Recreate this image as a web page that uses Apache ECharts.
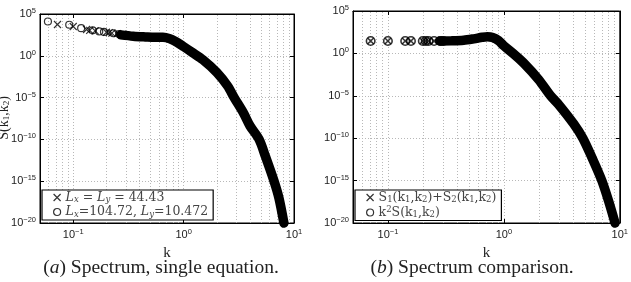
<!DOCTYPE html>
<html><head><meta charset="utf-8">
<script src="https://cdn.jsdelivr.net/npm/echarts@6/dist/echarts.min.js"></script>
<style>html,body{margin:0;padding:0;background:#fff;}#c{width:631px;height:282px;}</style>
</head><body><div id="c"></div>
<script>
// ---------- data ----------
// (a) single equation
const crossK_a = [0.072, 0.1, 0.132, 0.141, 0.158, 0.2, 0.212, 0.224, 0.25, 0.28];
const crossS_a = [5.6e3, 3.2e3, 1.4e3, 1.1e3, 9.5e2, 6.6e2, 6.0e2, 5.2e2, 4.5e2, 3.8e2];
const circK_a  = [0.059, 0.092, 0.118, 0.15, 0.172, 0.19, 0.231, 0.26];
const circS_a  = [1.26e4, 5.2e3, 2.0e3, 1.1e3, 8.3e2, 7.1e2, 5.0e2, 4.0e2];
const bandK_a  = [0.27, 0.35, 0.45, 0.55, 0.65, 0.75, 0.85, 1.0, 1.2, 1.5, 2.0, 2.5, 2.87, 3.5, 4.0, 4.83, 5.5, 6.6, 7.3, 8.1];
const bandS_a  = [3.2e2, 2.2e2, 1.8e2, 1.6e2, 1.6e2, 1.1e2, 50, 12.6, 2.5, 0.32, 1e-2, 2.5e-4, 1e-5, 1.3e-7, 4e-9, 1e-10, 1e-12, 1e-15, 1e-17, 1e-20];
// (b) comparison
const markK_b  = [0.071, 0.1, 0.141, 0.158, 0.2, 0.212, 0.224, 0.25, 0.283, 0.3];
const sumV_b   = [29, 29, 29, 29, 29, 29, 29, 29, 29, 29];
const k2sV_b   = [29, 29, 29, 29, 29, 29, 29, 29, 29, 29];
const bandK_b  = [0.28, 0.35, 0.45, 0.55, 0.65, 0.72, 0.8, 0.9, 1.0, 1.2, 1.5, 2.0, 2.53, 3.0, 4.0, 4.8, 5.8, 7.0, 8.0, 9.1];
const bandV_b  = [29, 30, 35, 52, 79, 93, 76, 32, 7.9, 1.0, 6.3e-2, 7.9e-4, 1e-5, 7.9e-7, 5e-9, 1e-10, 4e-13, 1e-15, 4e-18, 1e-20];

const xMin = 0.05, xMax = 10, yMin = 1e-20, yMax = 1e5;
const names = {
  a1: 'Lx = Ly = 44.43', a2: 'Lx=104.72, Ly=10.472',
  b1: 'S1(k1,k2)+S2(k1,k2)', b2: 'k2S(k1,k2)'
};
const legendText = {};
legendText[names.a1] = '{i|L}{si|x}{r| = }{i|L}{si|y}{r| = 44.43}';
legendText[names.a2] = '{i|L}{si|x}{r|=104.72, }{i|L}{si|y}{r|=10.472}';
legendText[names.b1] = '{r|S}{sr|1}{r|(k}{sr|1}{r|,k}{sr|2}{r|)+S}{sr|2}{r|(k}{sr|1}{r|,k}{sr|2}{r|)}';
legendText[names.b2] = '{r|k}{sp|2}{r|S(k}{sr|1}{r|,k}{sr|2}{r|)}';

const zip = (a, b) => a.map((v, i) => [v, b[i]]);
const SANS = 'Liberation Sans', SERIF = 'Liberation Serif', LSERIF = 'DejaVu Serif';
const TXT = '#222', LTXT = '#444';

const tickRich = {
  b: {fontFamily: SANS, fontSize: 11, lineHeight: 14, color: TXT},
  s: {fontFamily: SANS, fontSize: 7.5, lineHeight: 8, verticalAlign: 'top', color: TXT}
};
function powLabel(v) {
  const e = Math.round(Math.log10(v));
  return '{b|10}{s|' + (e < 0 ? '\u2212' + (-e) : e) + '}';
}
const legRich = {
  i:  {fontFamily: LSERIF, fontStyle: 'italic', fontSize: 12.5, lineHeight: 14, color: LTXT},
  r:  {fontFamily: LSERIF, fontSize: 12.5, lineHeight: 14, color: LTXT},
  si: {fontFamily: LSERIF, fontStyle: 'italic', fontSize: 8.5, lineHeight: 8, verticalAlign: 'bottom', color: LTXT},
  sr: {fontFamily: LSERIF, fontSize: 8.5, lineHeight: 8, verticalAlign: 'bottom', color: LTXT},
  sp: {fontFamily: LSERIF, fontSize: 8.5, lineHeight: 8, verticalAlign: 'top', color: LTXT}
};

// minor grid positions (2..9 x 10^d) derived from the axis range
const minorX = [];
for (let d = -2; d <= 0; d++) for (let m = 2; m <= 9; m++) {
  const v = m * Math.pow(10, d);
  if (v > xMin && v < xMax) minorX.push({xAxis: v});
}
const gridLine = {type: [1, 2], color: '#b8b8b8', width: 1};

function xAxis(gi, mirror) {
  const ax = {
    type: 'log', logBase: 10, gridIndex: gi, min: xMin, max: xMax,
    axisLine: {show: true, onZero: false, lineStyle: {color: '#000', width: 1}},
    axisTick: {show: true, inside: true, length: 4, lineStyle: {color: '#000'}}
  };
  if (mirror) {
    ax.position = 'top';
    ax.axisLabel = {show: false};
    ax.splitLine = {show: false};
  } else {
    ax.name = 'k'; ax.nameLocation = 'middle'; ax.nameGap = 16;
    ax.nameTextStyle = {fontFamily: SERIF, fontSize: 15, color: TXT};
    ax.axisLabel = {showMinLabel: false, formatter: powLabel, rich: tickRich, margin: 5};
    ax.splitLine = {show: true, lineStyle: gridLine};
  }
  return ax;
}
function yAxis(gi, mirror) {
  const ax = {
    type: 'log', logBase: 1e5, gridIndex: gi, min: yMin, max: yMax,
    axisLine: {show: true, onZero: false, lineStyle: {color: '#000', width: 1}},
    axisTick: {show: true, inside: true, length: 4, lineStyle: {color: '#000'}}
  };
  if (mirror) {
    ax.position = 'right';
    ax.axisLabel = {show: false};
    ax.splitLine = {show: false};
  } else {
    ax.axisLabel = {formatter: powLabel, rich: tickRich, margin: 4};
    ax.splitLine = {show: true, lineStyle: gridLine};
  }
  return ax;
}
const crossPath = 'path://M0,0L10,10M10,0L0,10';
const hollow = {color: 'rgba(0,0,0,0)', borderColor: '#000', borderWidth: 1.2};
const hollowB = {color: 'rgba(0,0,0,0)', borderColor: '#000', borderWidth: 1.6};

function gridHelper(gi) {
  return {type: 'line', xAxisIndex: gi, yAxisIndex: gi, data: [], silent: true, z: 1,
    markLine: {silent: true, z: 1, symbol: ['none', 'none'], label: {show: false},
      lineStyle: gridLine, data: minorX, animation: false}};
}
function band(gi, k, v) {
  return {type: 'line', xAxisIndex: gi, yAxisIndex: gi, data: zip(k, v), showSymbol: false,
    smooth: 0.3, clip: false, z: 3, silent: true,
    lineStyle: {color: '#000', width: 9.5, cap: 'round', join: 'round'}};
}
function marks(gi, name, sym, k, v, st, size) {
  return {type: 'scatter', name: name, xAxisIndex: gi, yAxisIndex: gi, data: zip(k, v),
    symbol: sym, symbolSize: size, itemStyle: st, z: 4, clip: false};
}
function legend(left, top, list) {
  return {left: left, top: top, orient: 'vertical', data: list.map(n => ({name: n, itemStyle: hollow})),
    backgroundColor: '#fff', borderColor: '#000', borderWidth: 1.2, borderRadius: 0,
    padding: [1, 5, 1, 11], itemGap: 1, itemWidth: 7, itemHeight: 7, selectedMode: false, z: 6,
    formatter: n => legendText[n], textStyle: {rich: legRich, fontFamily: LSERIF, fontSize: 12.5, color: LTXT}};
}

const chart = echarts.init(document.getElementById('c'));
chart.setOption({
  animation: false,
  backgroundColor: '#fff',
  grid: [
    {left: 40, top: 14, width: 254, height: 209, show: true, borderColor: '#000', borderWidth: 1, backgroundColor: 'transparent'},
    {left: 353, top: 11, width: 269, height: 212, show: true, borderColor: '#000', borderWidth: 1, backgroundColor: 'transparent'}
  ],
  xAxis: [xAxis(0, false), xAxis(1, false), xAxis(0, true), xAxis(1, true)],
  yAxis: [yAxis(0, false), yAxis(1, false), yAxis(0, true), yAxis(1, true)],
  legend: [legend(42, 190, [names.a1, names.a2]), legend(355, 190, [names.b1, names.b2])],
  series: [
    gridHelper(0), gridHelper(1),
    band(0, bandK_a, bandS_a),
    marks(0, names.a1, crossPath, crossK_a, crossS_a, hollow, 7),
    marks(0, names.a2, 'circle', circK_a, circS_a, hollow, 7),
    band(1, bandK_b, bandV_b),
    marks(1, names.b1, crossPath, markK_b, sumV_b, hollowB, 6),
    marks(1, names.b2, 'circle', markK_b, k2sV_b, hollowB, 8.5)
  ],
  graphic: [
    {type: 'text', x: 4, y: 118, rotation: Math.PI / 2, style: {text: 'S(k{s|1},k{s|2})', align: 'center', verticalAlign: 'middle',
      fontFamily: SERIF, fontSize: 14, fill: TXT,
      rich: {s: {fontFamily: SERIF, fontSize: 9, lineHeight: 9, verticalAlign: 'bottom', fill: TXT}}}},
    {type: 'text', x: 161, y: 268, style: {text: '({i|a}) Spectrum, single equation.', align: 'center', verticalAlign: 'middle',
      fontFamily: SERIF, fontSize: 19.5, fill: '#222',
      rich: {i: {fontFamily: SERIF, fontStyle: 'italic', fontSize: 19.5, fill: '#222'}}}},
    {type: 'text', x: 472, y: 268, style: {text: '({i|b}) Spectrum comparison.', align: 'center', verticalAlign: 'middle',
      fontFamily: SERIF, fontSize: 19.5, fill: '#222',
      rich: {i: {fontFamily: SERIF, fontStyle: 'italic', fontSize: 19.5, fill: '#222'}}}}
  ]
});
</script></body></html>
